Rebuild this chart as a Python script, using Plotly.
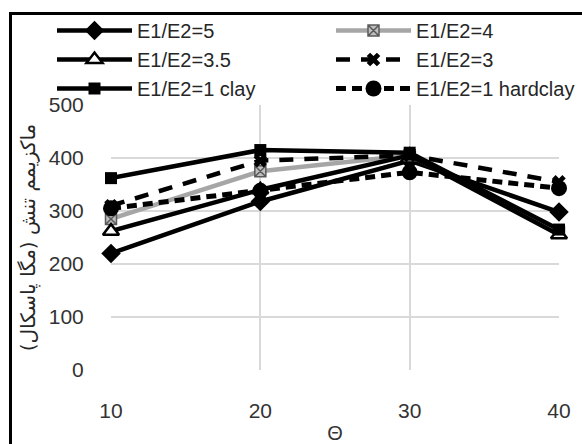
import plotly.graph_objects as go

theta = [10, 20, 30, 40]
e5 = [220, 318, 395, 298]
e4 = [285, 375, 405, 260]
e35 = [262, 340, 405, 255]
e3 = [310, 395, 405, 355]
clay = [362, 415, 410, 265]
hardclay = [305, 338, 373, 343]

names = ["E1/E2=5", "E1/E2=4", "E1/E2=3.5", "E1/E2=3", "E1/E2=1 clay", "E1/E2=1 hardclay"]

L, R, T, B = 111, 23, 105, 74
W, H = 582, 444
pw, ph = W - L - R, H - T - B

def px2x(px):
    return (px - L) / pw

def py2y(py):
    return (H - B - py) / ph

fig = go.Figure()
fig.add_trace(go.Scatter(x=theta, y=e5, name=names[0], mode="lines+markers", legend="legend",
                         line=dict(color="black", width=4.5), cliponaxis=False,
                         marker=dict(symbol="diamond", size=15, color="black")))
fig.add_trace(go.Scatter(x=theta, y=e4, name=names[1], mode="lines+markers", legend="legend2",
                         line=dict(color="#a6a6a6", width=4.5), cliponaxis=False,
                         marker=dict(symbol="square-x", size=11, color="#bfbfbf",
                                     line=dict(color="#595959", width=1.5))))
fig.add_trace(go.Scatter(x=theta, y=e35, name=names[2], mode="lines+markers", legend="legend",
                         line=dict(color="black", width=4.5), cliponaxis=False,
                         marker=dict(symbol="triangle-up", size=14, color="white",
                                     line=dict(color="black", width=2.5))))
fig.add_trace(go.Scatter(x=theta, y=e3, name=names[3], mode="lines+markers", legend="legend2",
                         line=dict(color="black", width=4.5, dash="14px,11px"), cliponaxis=False,
                         marker=dict(symbol="x", size=12, color="black")))
fig.add_trace(go.Scatter(x=theta, y=clay, name=names[4], mode="lines+markers", legend="legend",
                         line=dict(color="black", width=4.5), cliponaxis=False,
                         marker=dict(symbol="square", size=12, color="black")))
fig.add_trace(go.Scatter(x=theta, y=hardclay, name=names[5], mode="lines+markers", legend="legend2",
                         line=dict(color="black", width=5, dash="10px,6px"), cliponaxis=False,
                         marker=dict(symbol="circle", size=16, color="black")))

leg_common = dict(orientation="v", yanchor="top", tracegroupgap=0, itemwidth=75,
                  font=dict(size=20, color="#262626"), bgcolor="rgba(0,0,0,0)",
                  borderwidth=0, xanchor="left")

fig.update_layout(
    width=W, height=H, autosize=False,
    margin=dict(l=L, r=R, t=T, b=B, autoexpand=False),
    paper_bgcolor="white", plot_bgcolor="white",
    font=dict(family="Liberation Sans, Arial, sans-serif", color="#262626"),
    showlegend=True,
    legend=dict(leg_common, x=px2x(52), y=py2y(11)),
    legend2=dict(leg_common, x=px2x(331), y=py2y(11)),
    xaxis=dict(range=[10, 40], tickvals=theta, showgrid=True, gridcolor="#d9d9d9",
               gridwidth=2, zeroline=False, showline=False,
               ticks="outside", ticklen=22, tickcolor="rgba(0,0,0,0)",
               tickfont=dict(size=21, color="#333333"),
               title=dict(text="Θ", font=dict(size=20, color="#333333"), standoff=10)),
    yaxis=dict(range=[0, 500], dtick=100, showgrid=True, gridcolor="#d9d9d9",
               gridwidth=2, zeroline=False, showline=False,
               ticks="outside", ticklen=22, tickcolor="rgba(0,0,0,0)",
               tickfont=dict(size=21, color="#333333"),
               title=dict(text="ماکزیمم تنش (مگا پاسکال)",
                          font=dict(size=20, color="#262626",
                                    family="DejaVu Sans, Noto Sans, sans-serif"),
                          standoff=7)),
    shapes=[dict(type="rect", xref="paper", yref="paper",
                 x0=px2x(10.5), x1=px2x(700), y0=py2y(13.5), y1=py2y(600),
                 line=dict(color="black", width=3), fillcolor="rgba(0,0,0,0)",
                 layer="below")],
)

fig.write_html("out.html", post_script="document.body.style.margin='0';",
               config={"displayModeBar": False})
